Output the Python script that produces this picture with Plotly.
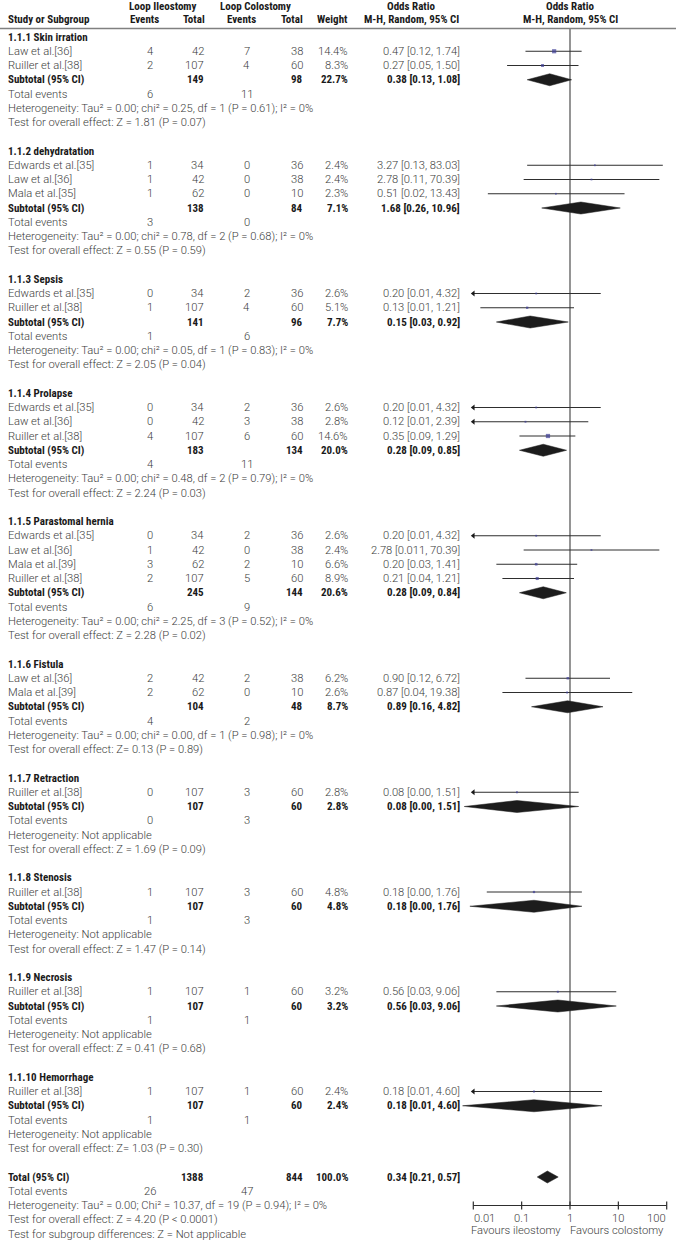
import numpy as np
import plotly.graph_objects as go

W, H = 676, 1243

# ---------------- data ----------------
section_titles = ["1.1.1 Skin irration", "1.1.2 dehydratation", "1.1.3 Sepsis", "1.1.4 Prolapse",
                  "1.1.5 Parastomal hernia", "1.1.6 Fistula", "1.1.7 Retraction", "1.1.8 Stenosis",
                  "1.1.9 Necrosis", "1.1.10 Hemorrhage"]

study_section = [0, 0, 1, 1, 1, 2, 2, 3, 3, 3, 4, 4, 4, 4, 5, 5, 6, 7, 8, 9]
study_names = ["Law et al.[36]", "Ruiller et al.[38]",
               "Edwards et al.[35]", "Law et al.[36]", "Mala et al.[35]",
               "Edwards et al.[35]", "Ruiller et al.[38]",
               "Edwards et al.[35]", "Law et al.[36]", "Ruiller et al.[38]",
               "Edwards et al.[35]", "Law et al.[36]", "Mala et al.[39]", "Ruiller et al.[38]",
               "Law et al.[36]", "Mala et al.[39]",
               "Ruiller et al.[38]", "Ruiller et al.[38]", "Ruiller et al.[38]", "Ruiller et al.[38]"]
ileo_events = [4, 2, 1, 1, 1, 0, 1, 0, 0, 4, 0, 1, 3, 2, 2, 2, 0, 1, 1, 1]
ileo_total = [42, 107, 34, 42, 62, 34, 107, 34, 42, 107, 34, 42, 62, 107, 42, 62, 107, 107, 107, 107]
colo_events = [7, 4, 0, 0, 0, 2, 4, 2, 3, 6, 2, 0, 2, 5, 2, 0, 3, 3, 1, 1]
colo_total = [38, 60, 36, 38, 10, 36, 60, 36, 38, 60, 36, 38, 10, 60, 38, 10, 60, 60, 60, 60]
study_weight = [14.4, 8.3, 2.4, 2.4, 2.3, 2.6, 5.1, 2.6, 2.8, 14.6, 2.6, 2.4, 6.6, 8.9, 6.2, 2.6, 2.8, 4.8, 3.2, 2.4]
study_or_text = ["0.47 [0.12, 1.74]", "0.27 [0.05, 1.50]",
                 "3.27 [0.13, 83.03]", "2.78 [0.11, 70.39]", "0.51 [0.02, 13.43]",
                 "0.20 [0.01, 4.32]", "0.13 [0.01, 1.21]",
                 "0.20 [0.01, 4.32]", "0.12 [0.01, 2.39]", "0.35 [0.09, 1.29]",
                 "0.20 [0.01, 4.32]", "2.78 [0.011, 70.39]", "0.20 [0.03, 1.41]", "0.21 [0.04, 1.21]",
                 "0.90 [0.12, 6.72]", "0.87 [0.04, 19.38]",
                 "0.08 [0.00, 1.51]", "0.18 [0.00, 1.76]", "0.56 [0.03, 9.06]", "0.18 [0.01, 4.60]"]
# plotted values
study_or = [0.47, 0.27, 3.27, 2.78, 0.51, 0.20, 0.13, 0.20, 0.12, 0.35, 0.20, 2.78, 0.20, 0.21,
            0.90, 0.87, 0.08, 0.18, 0.56, 0.18]
study_lo = [0.12, 0.05, 0.13, 0.11, 0.02, 0.01, 0.014, 0.01, 0.01, 0.09, 0.01, 0.11, 0.03, 0.04,
            0.12, 0.04, 0.01, 0.019, 0.03, 0.01]
study_hi = [1.74, 1.50, 83.03, 70.39, 13.43, 4.32, 1.21, 4.32, 2.39, 1.29, 4.32, 70.39, 1.41, 1.21,
            6.72, 19.38, 1.51, 1.76, 9.06, 4.60]
study_arrow_left = [False, False, False, False, False, True, False, True, True, False, True, False,
                    False, False, False, False, True, False, False, True]

sub_ileo_total = [149, 138, 141, 183, 245, 104, 107, 107, 107, 107]
sub_colo_total = [98, 84, 96, 134, 144, 48, 60, 60, 60, 60]
sub_weight = ["22.7%", "7.1%", "7.7%", "20.0%", "20.6%", "8.7%", "2.8%", "4.8%", "3.2%", "2.4%"]
sub_or_text = ["0.38 [0.13, 1.08]", "1.68 [0.26, 10.96]", "0.15 [0.03, 0.92]", "0.28 [0.09, 0.85]",
               "0.28 [0.09, 0.84]", "0.89 [0.16, 4.82]", "0.08 [0.00, 1.51]", "0.18 [0.00, 1.76]",
               "0.56 [0.03, 9.06]", "0.18 [0.01, 4.60]"]
sub_or = [0.38, 1.68, 0.15, 0.28, 0.28, 0.89, 0.08, 0.18, 0.56, 0.18]
sub_lo = [0.13, 0.26, 0.03, 0.09, 0.09, 0.16, 0.0065, 0.0085, 0.03, 0.006]
sub_hi = [1.08, 10.96, 0.92, 0.85, 0.84, 4.82, 1.51, 1.76, 9.06, 4.60]
sub_events_ileo = [6, 3, 1, 4, 6, 4, 0, 1, 1, 1]
sub_events_colo = [11, 0, 6, 11, 9, 2, 3, 3, 1, 1]
sub_heterogeneity = [
    "Heterogeneity: Tau² = 0.00; chi² = 0.25, df = 1 (P = 0.61); I² = 0%",
    "Heterogeneity: Tau² = 0.00; chi² = 0.78, df = 2 (P = 0.68); I² = 0%",
    "Heterogeneity: Tau² = 0.00; chi² = 0.05, df = 1 (P = 0.83); I² = 0%",
    "Heterogeneity: Tau² = 0.00; chi² = 0.48, df = 2 (P = 0.79); I² = 0%",
    "Heterogeneity: Tau² = 0.00; chi² = 2.25, df = 3 (P = 0.52); I² = 0%",
    "Heterogeneity: Tau² = 0.00; chi² = 0.00, df = 1 (P = 0.98); I² = 0%",
    "Heterogeneity: Not applicable",
    "Heterogeneity: Not applicable",
    "Heterogeneity: Not applicable",
    "Heterogeneity: Not applicable"]
sub_overall = [
    "Test for overall effect: Z = 1.81 (P = 0.07)",
    "Test for overall effect: Z = 0.55 (P = 0.59)",
    "Test for overall effect: Z = 2.05 (P = 0.04)",
    "Test for overall effect: Z = 2.24 (P = 0.03)",
    "Test for overall effect: Z = 2.28 (P = 0.02)",
    "Test for overall effect: Z= 0.13 (P = 0.89)",
    "Test for overall effect: Z = 1.69 (P = 0.09)",
    "Test for overall effect: Z = 1.47 (P = 0.14)",
    "Test for overall effect: Z = 0.41 (P = 0.68)",
    "Test for overall effect: Z= 1.03 (P = 0.30)"]

total_ileo_total, total_colo_total = 1388, 844
total_weight = "100.0%"
total_or_text = "0.34 [0.21, 0.57]"
total_or, total_lo, total_hi = 0.34, 0.21, 0.57
total_events_ileo, total_events_colo = 26, 47
total_lines = ["Heterogeneity: Tau² = 0.00; Chi² = 10.37, df = 19 (P = 0.94); I² = 0%",
               "Test for overall effect: Z = 4.20 (P < 0.0001)",
               "Test for subgroup differences: Z = Not applicable"]

tick_vals = [0.01, 0.1, 1, 10, 100]
tick_text = ["0.01", "0.1", "1", "10", "100"]
favours_left, favours_right = "Favours ileostomy", "Favours colostomy"

# ---------------- layout parameters ----------------
Y0, DY = 37.0, 14.25
X_NAME, X_IEV, X_ITOT, X_CEV, X_CTOT, X_W, X_OR = 7, 150, 205, 247, 304, 349, 461
PX0, PXD = 473.3, 48.35          # pixel of 0.01, pixels per decade
DOM_L = 430
rng_l = -2 - (PX0 - DOM_L) / PXD
rng_r = -2 + (W - PX0) / PXD
RULE_Y = 28.5

REG = dict(family="Roboto, 'Liberation Sans', Arial, sans-serif", size=11.2, color="#3c3c3c", weight=300)
BOLD = dict(family="'Liberation Sans Narrow', 'Arial Narrow', 'Roboto Condensed', 'DejaVu Sans Condensed', sans-serif",
            size=11, color="#1a1a1a", weight=700)

annotations = []


def txt(x, y, s, anchor="left", font=REG, xref="paper"):
    annotations.append(dict(x=x / W if xref == "paper" else x, y=y, xref=xref, yref="y", text=str(s),
                            showarrow=False, xanchor=anchor, yanchor="middle", font=font, borderpad=0))


# header
txt(163, 6, "Loop Ileostomy", "center", BOLD)
txt(255, 6, "Loop Colostomy", "center", BOLD)
txt(411, 6, "Odds Ratio", "center", BOLD)
txt(570, 6, "Odds Ratio", "center", BOLD)
txt(X_NAME, 19.5, "Study or Subgroup", "left", BOLD)
txt(144, 19.5, "Events", "center", BOLD)
txt(206, 19.5, "Total", "right", BOLD)
txt(241, 19.5, "Events", "center", BOLD)
txt(304, 19.5, "Total", "right", BOLD)
txt(349, 19.5, "Weight", "right", BOLD)
txt(411, 19.5, "M-H, Random, 95% CI", "center", BOLD)
txt(570, 19.5, "M-H, Random, 95% CI", "center", BOLD)

fig = go.Figure()

ci_x, ci_y, sq_x, sq_y, sq_s, ar_x, ar_y = [], [], [], [], [], [], []
diamonds = []
r = 0
for s, title in enumerate(section_titles):
    y = Y0 + r * DY
    txt(X_NAME, y, title, "left", BOLD)
    r += 1
    for i in [k for k, sec in enumerate(study_section) if sec == s]:
        y = Y0 + r * DY
        txt(X_NAME, y, study_names[i])
        txt(X_IEV, y, ileo_events[i], "center")
        txt(X_ITOT, y, ileo_total[i], "right")
        txt(X_CEV, y, colo_events[i], "center")
        txt(X_CTOT, y, colo_total[i], "right")
        txt(X_W, y, f"{study_weight[i]:.1f}%", "right")
        txt(X_OR, y, study_or_text[i], "right")
        ci_x += [study_lo[i], study_hi[i], None]
        ci_y += [y, y, None]
        sq_x.append(study_or[i]); sq_y.append(y); sq_s.append(1.3 + 0.2 * study_weight[i])
        if study_arrow_left[i]:
            ar_x.append(study_lo[i]); ar_y.append(y)
        r += 1
    y = Y0 + r * DY
    txt(X_NAME, y, "Subtotal (95% CI)", "left", BOLD)
    txt(X_ITOT, y, sub_ileo_total[s], "right", BOLD)
    txt(X_CTOT, y, sub_colo_total[s], "right", BOLD)
    txt(X_W, y, sub_weight[s], "right", BOLD)
    txt(X_OR, y, sub_or_text[s], "right", BOLD)
    diamonds.append((sub_lo[s], sub_or[s], sub_hi[s], y))
    r += 1
    y = Y0 + r * DY
    txt(X_NAME, y, "Total events")
    txt(X_IEV, y, sub_events_ileo[s], "center")
    txt(X_CEV, y, sub_events_colo[s], "center")
    r += 1
    txt(X_NAME, Y0 + r * DY, sub_heterogeneity[s]); r += 1
    txt(X_NAME, Y0 + r * DY, sub_overall[s]); r += 1
    r += 1  # blank row

y = Y0 + r * DY
txt(X_NAME, y, "Total (95% CI)", "left", BOLD)
txt(X_ITOT, y, total_ileo_total, "right", BOLD)
txt(X_CTOT, y, total_colo_total, "right", BOLD)
txt(X_W, y, total_weight, "right", BOLD)
txt(X_OR, y, total_or_text, "right", BOLD)
diamonds.append((total_lo, total_or, total_hi, y))
r += 1
y = Y0 + r * DY
txt(X_NAME, y, "Total events")
txt(X_IEV, y, total_events_ileo, "center")
txt(X_CEV, y, total_events_colo, "center")
r += 1
AXIS_Y = Y0 + r * DY
for line in total_lines:
    txt(X_NAME, Y0 + r * DY, line)
    r += 1

# vertical line of no effect
fig.add_trace(go.Scatter(x=[1, 1], y=[RULE_Y, AXIS_Y], mode="lines",
                         line=dict(color="#7a7a7a", width=1.6), hoverinfo="skip"))
# CI lines
fig.add_trace(go.Scatter(x=ci_x, y=ci_y, mode="lines", line=dict(color="#2e2e2e", width=1),
                         hoverinfo="skip", connectgaps=False))
# squares
fig.add_trace(go.Scatter(x=sq_x, y=sq_y, mode="markers",
                         marker=dict(symbol="square", size=sq_s, color="#3d3d96", line=dict(width=0)),
                         hoverinfo="skip"))
# arrows
fig.add_trace(go.Scatter(x=ar_x, y=ar_y, mode="markers",
                         marker=dict(symbol="triangle-left", size=5, color="#1a1a1a", line=dict(width=0)),
                         hoverinfo="skip"))
# diamonds
for lo, est, hi, yy in diamonds:
    fig.add_trace(go.Scatter(x=[lo, est, hi, est, lo], y=[yy, yy - 6, yy, yy + 6, yy],
                             mode="lines", fill="toself", fillcolor="#1c1c1c",
                             line=dict(color="#1c1c1c", width=0.5), hoverinfo="skip"))
# axis line and ticks
fig.add_trace(go.Scatter(x=[tick_vals[0], tick_vals[-1]], y=[AXIS_Y, AXIS_Y], mode="lines",
                         line=dict(color="#2e2e2e", width=1.2), hoverinfo="skip"))
tx, ty = [], []
for t in tick_vals:
    tx += [t, t, None]
    ty += [AXIS_Y - 4, AXIS_Y + 4, None]
fig.add_trace(go.Scatter(x=tx, y=ty, mode="lines", line=dict(color="#2e2e2e", width=1.2),
                         hoverinfo="skip"))
for k, (t, lab) in enumerate(zip(tick_vals, tick_text)):
    anc = "left" if k == 0 else ("right" if k == len(tick_vals) - 1 else "center")
    txt(np.log10(t), AXIS_Y + 12.5, lab, anc, REG, xref="x")
txt(516, AXIS_Y + 25, favours_left, "center")
txt(617, AXIS_Y + 25, favours_right, "center")

fig.add_shape(type="line", xref="paper", yref="y", x0=0, x1=1, y0=RULE_Y, y1=RULE_Y,
              line=dict(color="#808080", width=1.6))

fig.update_layout(
    width=W, height=H, margin=dict(l=0, r=0, t=0, b=0),
    paper_bgcolor="white", plot_bgcolor="rgba(0,0,0,0)", showlegend=False,
    xaxis=dict(type="log", range=[rng_l, rng_r], domain=[DOM_L / W, 1], visible=False, fixedrange=True),
    yaxis=dict(range=[H, 0], domain=[0, 1], visible=False, fixedrange=True),
    annotations=annotations,
)
fig.write_html("out.html", config={"displayModeBar": False, "staticPlot": True},
               post_script="document.body.style.margin='0px';document.body.style.padding='0px';"
                           "document.documentElement.style.overflow='hidden';")
